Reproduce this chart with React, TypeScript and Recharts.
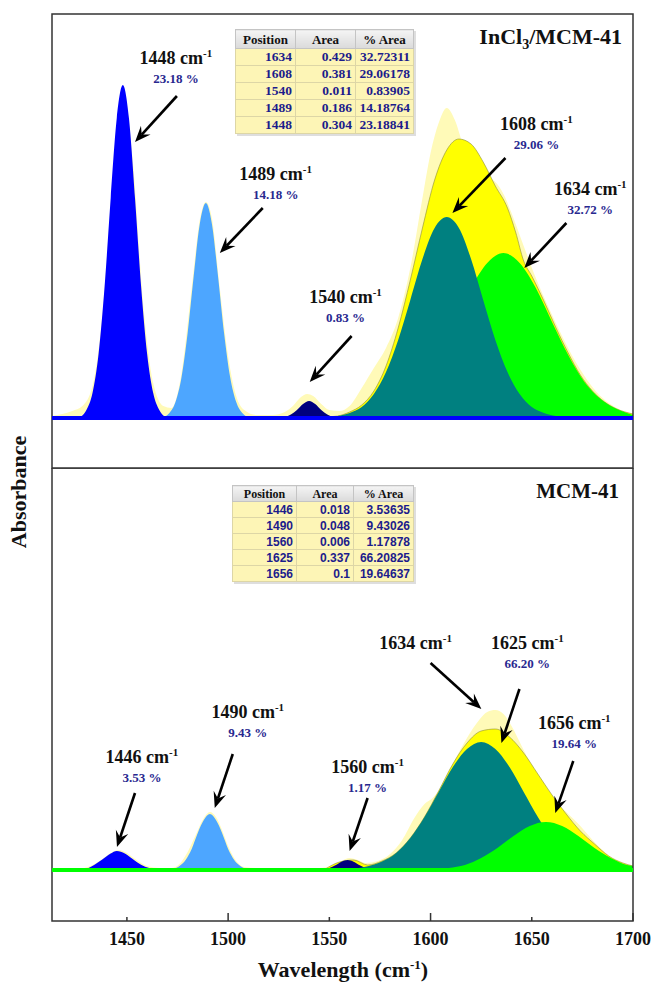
import React from "react";
import {
  ComposedChart,
  Area,
  XAxis,
  YAxis,
  ReferenceLine,
  ReferenceArea,
  ReferenceDot,
} from "recharts";

const X_MIN = 1413;
const X_MAX = 1700;
const xTicks = [1450, 1500, 1550, 1600, 1650, 1700];
const majorTicks = [1500, 1600, 1700];

// ---- InCl3/MCM-41 panel: [wavenumber, absorbance] ----
const inclSpectrum = [
  [1413, 0.02], [1418, 0.04], [1423, 0.07], [1428, 0.12], [1433, 0.32], [1438, 1.05],
  [1443, 2.4], [1448, 3.3], [1453, 2.55], [1458, 1.15], [1463, 0.35], [1468, 0.12],
  [1472, 0.1], [1477, 0.45], [1482, 1.3], [1486, 1.98], [1489, 2.16], [1492, 2.0],
  [1496, 1.28], [1500, 0.62], [1504, 0.22], [1508, 0.08], [1514, 0.03], [1522, 0.03],
  [1528, 0.06], [1532, 0.12], [1536, 0.21], [1539, 0.24], [1542, 0.22], [1546, 0.14],
  [1550, 0.08], [1555, 0.07], [1560, 0.12], [1566, 0.3], [1572, 0.5], [1578, 0.7],
  [1584, 1.0], [1590, 1.5], [1596, 2.2], [1600, 2.65], [1604, 2.95], [1608, 3.1],
  [1612, 2.98], [1616, 2.74], [1620, 2.58], [1624, 2.47], [1628, 2.41], [1632, 2.36],
  [1636, 2.24], [1640, 2.05], [1646, 1.72], [1652, 1.4], [1658, 1.12], [1664, 0.86],
  [1670, 0.62], [1676, 0.42], [1682, 0.26], [1688, 0.15], [1694, 0.08], [1700, 0.04],
];
const inclEnvelope = [
  [1548, 0.01], [1554, 0.02], [1560, 0.06], [1566, 0.13], [1572, 0.27], [1578, 0.52],
  [1584, 0.9], [1590, 1.38], [1596, 1.9], [1602, 2.38], [1608, 2.68], [1614, 2.79],
  [1620, 2.74], [1626, 2.56], [1632, 2.32], [1638, 2.1], [1642, 1.86], [1646, 1.57],
  [1650, 1.42], [1656, 1.17], [1662, 0.9], [1668, 0.65], [1674, 0.43], [1680, 0.27],
  [1686, 0.16], [1692, 0.09], [1700, 0.04],
];
const incl1448 = [
  [1426, 0], [1430, 0.08], [1433, 0.25], [1436, 0.64], [1439, 1.32], [1442, 2.2],
  [1445, 3.0], [1448, 3.33], [1451, 3.0], [1454, 2.2], [1457, 1.32], [1460, 0.64],
  [1463, 0.25], [1466, 0.08], [1470, 0],
];
const incl1489 = [
  [1467, 0], [1471, 0.05], [1474, 0.16], [1477, 0.41], [1480, 0.85], [1483, 1.42],
  [1486, 1.94], [1489, 2.15], [1492, 1.94], [1495, 1.42], [1498, 0.85], [1501, 0.41],
  [1504, 0.16], [1507, 0.05], [1511, 0],
];
const incl1540 = [
  [1525, 0], [1528, 0.01], [1531, 0.034], [1534, 0.08], [1537, 0.14], [1540, 0.17],
  [1543, 0.14], [1546, 0.08], [1549, 0.034], [1552, 0.01], [1555, 0],
];
const incl1608 = [
  [1548, 0.01], [1554, 0.02], [1560, 0.05], [1566, 0.11], [1572, 0.24], [1578, 0.46],
  [1584, 0.78], [1590, 1.18], [1596, 1.59], [1602, 1.9], [1608, 2.01], [1614, 1.9],
  [1620, 1.59], [1626, 1.18], [1632, 0.78], [1638, 0.46], [1644, 0.24], [1650, 0.11],
  [1656, 0.05], [1662, 0.02], [1668, 0.01],
];
const incl1634 = [
  [1564, 0.01], [1572, 0.03], [1580, 0.09], [1588, 0.19], [1596, 0.36], [1604, 0.63],
  [1612, 0.96], [1620, 1.3], [1628, 1.55], [1636, 1.65], [1644, 1.55], [1652, 1.3],
  [1660, 0.96], [1668, 0.63], [1676, 0.36], [1684, 0.19], [1692, 0.09], [1700, 0.03],
];

// ---- MCM-41 panel ----
const mcmSpectrum = [
  [1413, 0.01], [1425, 0.01], [1432, 0.04], [1438, 0.11], [1442, 0.17], [1446, 0.2],
  [1450, 0.17], [1454, 0.11], [1460, 0.04], [1466, 0.02], [1472, 0.02], [1476, 0.06],
  [1480, 0.18], [1484, 0.35], [1488, 0.52], [1491, 0.58], [1494, 0.53], [1497, 0.4],
  [1500, 0.24], [1504, 0.09], [1508, 0.03], [1515, 0.02], [1525, 0.02], [1535, 0.02],
  [1545, 0.02], [1552, 0.05], [1556, 0.09], [1560, 0.12], [1564, 0.1], [1568, 0.07],
  [1574, 0.09], [1580, 0.16], [1586, 0.3], [1592, 0.52], [1597, 0.66], [1601, 0.72],
  [1606, 0.85], [1612, 1.1], [1618, 1.32], [1624, 1.5], [1628, 1.58], [1632, 1.6],
  [1636, 1.56], [1640, 1.44], [1645, 1.24], [1650, 1.04], [1656, 0.84], [1662, 0.68],
  [1668, 0.56], [1674, 0.44], [1680, 0.3], [1686, 0.18], [1692, 0.09], [1700, 0.04],
];
const mcmEnvelope = [
  [1548, 0.01], [1555, 0.08], [1562, 0.1], [1569, 0.05], [1576, 0.09], [1583, 0.17],
  [1590, 0.32], [1597, 0.53], [1604, 0.79], [1611, 1.06], [1618, 1.27], [1625, 1.39],
  [1632, 1.41], [1639, 1.33], [1646, 1.17], [1653, 0.96], [1660, 0.75], [1667, 0.56],
  [1674, 0.39], [1681, 0.26], [1688, 0.14], [1695, 0.07], [1700, 0.04],
];
const mcm1446 = [
  [1424, 0], [1428, 0.005], [1431, 0.02], [1434, 0.053], [1438, 0.108], [1442, 0.165],
  [1445, 0.19], [1449, 0.165], [1453, 0.108], [1457, 0.053], [1461, 0.02], [1465, 0.005],
  [1468, 0],
];
const mcm1490 = [
  [1473, 0.01], [1476, 0.04], [1479, 0.1], [1482, 0.21], [1485, 0.37], [1488, 0.5],
  [1491, 0.56], [1494, 0.5], [1497, 0.37], [1500, 0.21], [1503, 0.1], [1506, 0.04],
  [1509, 0.01],
];
const mcm1560 = [
  [1547, 0.006], [1550, 0.02], [1553, 0.047], [1556, 0.083], [1559, 0.1], [1562, 0.083],
  [1565, 0.047], [1568, 0.02], [1571, 0.006],
];
const mcm1625 = [
  [1555, 0.005], [1562, 0.014], [1569, 0.037], [1576, 0.084], [1583, 0.17], [1590, 0.32],
  [1597, 0.53], [1604, 0.78], [1611, 1.03], [1618, 1.21], [1625, 1.28], [1632, 1.21],
  [1639, 1.03], [1646, 0.78], [1653, 0.53], [1660, 0.32], [1667, 0.17], [1674, 0.084],
  [1681, 0.037], [1688, 0.014], [1695, 0.005],
];
const mcm1656 = [
  [1593, 0], [1601, 0.01], [1609, 0.02], [1617, 0.05], [1625, 0.12], [1633, 0.22],
  [1641, 0.34], [1649, 0.44], [1657, 0.48], [1665, 0.44], [1673, 0.34], [1681, 0.22],
  [1689, 0.12], [1697, 0.05], [1700, 0.04],
];

// fit result tables
const tableHead = ["Position", "Area", "% Area"];
const inclTable = [
  ["1634", "0.429", "32.72311"],
  ["1608", "0.381", "29.06178"],
  ["1540", "0.011", "0.83905"],
  ["1489", "0.186", "14.18764"],
  ["1448", "0.304", "23.18841"],
];
const mcmTable = [
  ["1446", "0.018", "3.53635"],
  ["1490", "0.048", "9.43026"],
  ["1560", "0.006", "1.17878"],
  ["1625", "0.337", "66.20825"],
  ["1656", "0.1", "19.64637"],
];

// annotations: label anchor, arrow start, arrow tip (data coords)
const inclNotes = [
  { peak: "1448", pct: "23.18 %", at: [1474.2, 3.54], from: [1474.7, 3.22], to: [1454.0, 2.76] },
  { peak: "1489", pct: "14.18 %", at: [1523.5, 2.38], from: [1517.1, 2.1], to: [1495.9, 1.65] },
  { peak: "1540", pct: "0.83 %", at: [1558.0, 1.15], from: [1561.0, 0.82], to: [1540.3, 0.36] },
  { peak: "1608", pct: "29.06 %", at: [1652.3, 2.88], from: [1637.0, 2.6], to: [1610.8, 2.05] },
  { peak: "1634", pct: "32.72 %", at: [1678.9, 2.23], from: [1667.1, 1.95], to: [1646.3, 1.5] },
];
const mcmNotes = [
  { peak: "1446", pct: "3.53 %", at: [1457.4, 1.07], from: [1454.0, 0.77], to: [1445.1, 0.23] },
  { peak: "1490", pct: "9.43 %", at: [1509.7, 1.52], from: [1502.3, 1.16], to: [1493.4, 0.62] },
  { peak: "1560", pct: "1.17 %", at: [1568.9, 0.97], from: [1568.9, 0.72], to: [1560.0, 0.19] },
  { peak: "1634", pct: "", at: [1592.6, 2.21], from: [1600.0, 2.07], to: [1625.1, 1.61] },
  { peak: "1625", pct: "66.20 %", at: [1647.8, 2.21], from: [1643.9, 1.81], to: [1635.0, 1.27] },
  { peak: "1656", pct: "19.64 %", at: [1671.0, 1.41], from: [1670.5, 1.09], to: [1661.6, 0.57] },
];

const SERIF = '"Liberation Serif", "Times New Roman", serif';
const PALE = "#FFFAB8";
const YELLOW = "#FFFF00";
const BLUE = "#0000FF";
const LIGHT_BLUE = "#4DA6FF";
const NAVY = "#00007F";
const TEAL = "#008080";
const GREEN = "#00FF00";
const PCT_COLOR = "#28288F";
const FRAME = "#333";

const toPts = (arr: number[][]) => arr.map(([x, y]) => ({ x, y }));

// drawing order matters: later series sit on top
const inclSeries = [
  { key: "spec", pts: inclSpectrum, fill: PALE },
  { key: "env", pts: inclEnvelope, fill: YELLOW, edge: true },
  { key: "1448", pts: incl1448, fill: BLUE },
  { key: "1489", pts: incl1489, fill: LIGHT_BLUE },
  { key: "1540", pts: incl1540, fill: NAVY },
  { key: "1634", pts: incl1634, fill: GREEN },
  { key: "1608", pts: incl1608, fill: TEAL },
];
const mcmSeries = [
  { key: "spec", pts: mcmSpectrum, fill: PALE },
  { key: "env", pts: mcmEnvelope, fill: YELLOW, edge: true },
  { key: "1446", pts: mcm1446, fill: BLUE },
  { key: "1490", pts: mcm1490, fill: LIGHT_BLUE },
  { key: "1560", pts: mcm1560, fill: NAVY },
  { key: "1625", pts: mcm1625, fill: TEAL },
  { key: "1656", pts: mcm1656, fill: GREEN },
];

const Arrow = (props: any) => {
  const { x1, y1, x2, y2 } = props;
  const dx = x2 - x1;
  const dy = y2 - y1;
  const len = Math.hypot(dx, dy) || 1;
  const ux = dx / len;
  const uy = dy / len;
  const px = -uy;
  const py = ux;
  const head = 16;
  const half = 6.5;
  const notch = 10;
  const bx = x2 - ux * head;
  const by = y2 - uy * head;
  const nx = x2 - ux * notch;
  const ny = y2 - uy * notch;
  return (
    <g>
      <line x1={x1} y1={y1} x2={nx} y2={ny} stroke="#000" strokeWidth={2.6} />
      <polygon
        points={`${x2},${y2} ${bx + px * half},${by + py * half} ${nx},${ny} ${bx - px * half},${by - py * half}`}
        fill="#000"
      />
    </g>
  );
};

const PeakLabel = ({ cx, cy, peak, pct }: any) => (
  <g fontFamily={SERIF} fontWeight="bold" textAnchor="middle">
    <text x={cx} y={cy} fontSize={18} fill="#111">
      {peak} cm<tspan dy={-7} fontSize={11}>-1</tspan>
    </text>
    {pct ? (
      <text x={cx} y={cy + 19} fontSize={13} fill={PCT_COLOR}>
        {pct}
      </text>
    ) : null}
  </g>
);

const XTick = ({ x, y, payload }: any) => {
  const len = majorTicks.includes(payload.value) ? 8 : 4;
  return (
    <g>
      <line x1={x} y1={y} x2={x} y2={y - len} stroke={FRAME} strokeWidth={1.5} />
      <text
        x={x}
        y={y + 23.5}
        textAnchor="middle"
        fontFamily={SERIF}
        fontWeight="bold"
        fontSize={18}
        fill="#111"
      >
        {payload.value}
      </text>
    </g>
  );
};

type PanelProps = {
  series: typeof inclSeries;
  notes: typeof inclNotes;
  yDomain: number[];
  baseColor: string;
  height: number;
  margin: { top: number; right: number; bottom: number; left: number };
  showAxis?: boolean;
};

const Panel = ({ series, notes, yDomain, baseColor, height, margin, showAxis }: PanelProps) => (
  <ComposedChart width={651} height={height} margin={margin}>
    <XAxis
      type="number"
      dataKey="x"
      domain={[X_MIN, X_MAX]}
      allowDataOverflow
      ticks={xTicks}
      interval={0}
      hide={!showAxis}
      height={30}
      axisLine={false}
      tickLine={false}
      tickSize={0}
      tickMargin={0}
      tick={(p: any) => <XTick {...p} />}
    />
    <YAxis type="number" domain={yDomain} allowDataOverflow hide />
    {series.map((s) => (
      <Area
        key={s.key}
        data={toPts(s.pts)}
        dataKey="y"
        type="monotone"
        baseValue={0}
        fill={s.fill}
        fillOpacity={1}
        stroke={s.edge ? "#8c8c3c" : "none"}
        strokeWidth={s.edge ? 0.6 : 0}
        dot={false}
        activeDot={false}
        isAnimationActive={false}
      />
    ))}
    <ReferenceLine y={0} stroke={baseColor} strokeWidth={4} />
    {notes.map((n) => (
      <ReferenceLine
        key={"a" + n.peak}
        segment={[
          { x: n.from[0], y: n.from[1] },
          { x: n.to[0], y: n.to[1] },
        ]}
        ifOverflow="visible"
        shape={(p: any) => <Arrow {...p} />}
      />
    ))}
    {notes.map((n) => (
      <ReferenceDot
        key={"l" + n.peak}
        x={n.at[0]}
        y={n.at[1]}
        r={0}
        ifOverflow="visible"
        shape={(p: any) => <PeakLabel cx={p.cx} cy={p.cy} peak={n.peak} pct={n.pct} />}
      />
    ))}
    <ReferenceArea
      x1={X_MIN}
      x2={X_MAX}
      y1={yDomain[0]}
      y2={yDomain[1]}
      fill="none"
      fillOpacity={0}
      stroke={FRAME}
      strokeWidth={1.5}
      ifOverflow="visible"
    />
  </ComposedChart>
);

type TableProps = {
  rows: string[][];
  left: number;
  top: number;
  widths: number[];
  headH: number;
  rowH: number;
  headSize: number;
  cellFont: string;
  cellSize: number;
};

const PeakTable = ({ rows, left, top, widths, headH, rowH, headSize, cellFont, cellSize }: TableProps) => (
  <table
    style={{
      position: "absolute",
      left,
      top,
      width: widths.reduce((a, b) => a + b, 0),
      borderCollapse: "collapse",
      tableLayout: "fixed",
      border: "1px solid #9c9c9c",
      boxShadow: "2px 2px 0 #dedede",
    }}
  >
    <colgroup>
      {widths.map((w, i) => (
        <col key={i} style={{ width: w }} />
      ))}
    </colgroup>
    <thead>
      <tr style={{ height: headH }}>
        {tableHead.map((h) => (
          <th
            key={h}
            style={{
              padding: 0,
              fontFamily: SERIF,
              fontWeight: "bold",
              fontSize: headSize,
              lineHeight: 1,
              color: "#111",
              background: "linear-gradient(#f4f4f4, #dadada)",
              border: "1px solid #c4c4c4",
              textAlign: "center",
            }}
          >
            {h}
          </th>
        ))}
      </tr>
    </thead>
    <tbody>
      {rows.map((r, ri) => (
        <tr key={ri} style={{ height: rowH }}>
          {r.map((c, ci) => (
            <td
              key={ci}
              style={{
                padding: "0 3px 0 0",
                fontFamily: cellFont,
                fontWeight: "bold",
                fontSize: cellSize,
                lineHeight: 1,
                color: "#1C1C8C",
                background: "#FDF5B6",
                border: "1px solid #ddd6a6",
                textAlign: "right",
              }}
            >
              {c}
            </td>
          ))}
        </tr>
      ))}
    </tbody>
  </table>
);

export default function App() {
  return (
    <div
      style={{
        position: "absolute",
        left: 0,
        top: 0,
        width: 651,
        height: 984,
        background: "#fff",
        overflow: "hidden",
        fontFamily: SERIF,
      }}
    >
      <div style={{ position: "absolute", left: 0, top: 0 }}>
        <Panel
          series={inclSeries}
          notes={inclNotes}
          yDomain={[-0.5, 4.04]}
          baseColor={BLUE}
          height={470}
          margin={{ top: 14, right: 18, bottom: 2, left: 52 }}
        />
      </div>
      <div style={{ position: "absolute", left: 0, top: 468 }}>
        <Panel
          series={mcmSeries}
          notes={mcmNotes}
          yDomain={[-0.51, 4.02]}
          baseColor={GREEN}
          height={516}
          margin={{ top: 0, right: 18, bottom: 33, left: 52 }}
          showAxis
        />
      </div>

      <PeakTable
        rows={inclTable}
        left={235}
        top={29}
        widths={[60, 60, 58]}
        headH={19}
        rowH={17}
        headSize={13}
        cellFont={SERIF}
        cellSize={13.5}
      />
      <PeakTable
        rows={mcmTable}
        left={232}
        top={485}
        widths={[64, 57, 60]}
        headH={16}
        rowH={16}
        headSize={12}
        cellFont='"Liberation Sans", Arial, sans-serif'
        cellSize={12}
      />

      <div
        style={{
          position: "absolute",
          right: 29,
          top: 25.6,
          fontSize: 22,
          lineHeight: "22px",
          fontWeight: "bold",
          color: "#111",
          whiteSpace: "nowrap",
        }}
      >
        InCl<span style={{ fontSize: 14, position: "relative", top: 5 }}>3</span>/MCM-41
      </div>
      <div
        style={{
          position: "absolute",
          right: 32,
          top: 481,
          fontSize: 21,
          lineHeight: "21px",
          fontWeight: "bold",
          color: "#111",
          whiteSpace: "nowrap",
        }}
      >
        MCM-41
      </div>

      <div
        style={{
          position: "absolute",
          left: 19,
          top: 492,
          transform: "translate(-50%, -50%) rotate(-90deg)",
          fontSize: 22,
          lineHeight: "22px",
          fontWeight: "bold",
          color: "#111",
          whiteSpace: "nowrap",
        }}
      >
        Absorbance
      </div>
      <div
        style={{
          position: "absolute",
          left: 343,
          top: 959,
          transform: "translateX(-50%)",
          fontSize: 22,
          lineHeight: "22px",
          fontWeight: "bold",
          color: "#111",
          whiteSpace: "nowrap",
        }}
      >
        Wavelength (cm<span style={{ fontSize: 13, position: "relative", top: -8 }}>-1</span>)
      </div>
    </div>
  );
}
